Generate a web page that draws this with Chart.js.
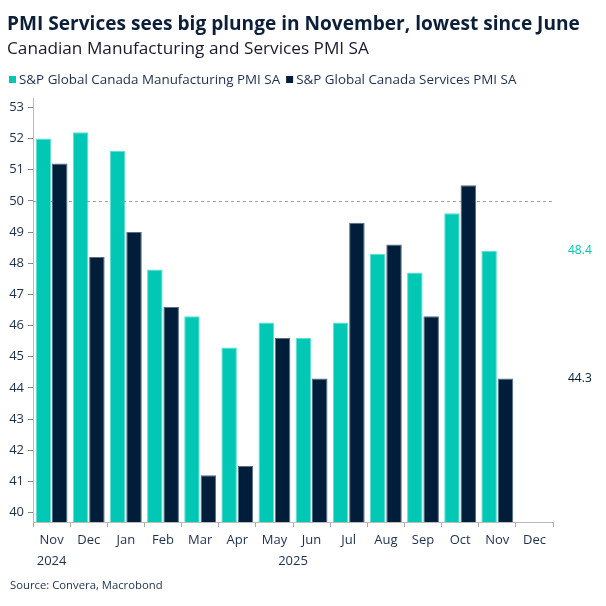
<!DOCTYPE html>
<html>
<head>
<meta charset="utf-8">
<script src="https://cdn.jsdelivr.net/npm/chart.js@4"></script>
<style>
html,body{margin:0;padding:0;background:#fff;}
#wrap{position:relative;width:606px;height:606px;}
</style>
</head>
<body>
<div id="wrap"><canvas id="c" width="606" height="606"></canvas></div>
<script>
const categories = ['Nov','Dec','Jan','Feb','Mar','Apr','May','Jun','Jul','Aug','Sep','Oct','Nov','Dec'];
const manufacturing = [52.0,52.2,51.6,47.8,46.3,45.3,46.1,45.6,46.1,48.3,47.7,49.6,48.4,null];
const services = [51.2,48.2,49.0,46.6,41.2,41.5,45.6,44.3,49.3,48.6,46.3,50.5,44.3,null];
const yTicks = [40,41,42,43,44,45,46,47,48,49,50,51,52,53];
const yearLabels = ['2024','2025'];
const yearPositions = [0, 6.5];
const seriesNames = ['S&P Global Canada Manufacturing PMI SA','S&P Global Canada Services PMI SA'];
const refLevel = 50;
const titleText = 'PMI Services sees big plunge in November, lowest since June';
const subtitleText = 'Canadian Manufacturing and Services PMI SA';
const sourceText = 'Source: Convera, Macrobond';

const TEAL = '#00C8B4';
const NAVY = '#001E3A';
const TXT = '#1c2f4e';
const FONT = "'Open Sans', 'Noto Sans', sans-serif";

const extras = {
  id: 'extras',
  beforeDatasetsDraw(chart) {
    const {ctx, chartArea} = chart;
    const y = chart.scales.y.getPixelForValue(refLevel);
    ctx.save();
    ctx.strokeStyle = '#a0a0a0';
    ctx.lineWidth = 1;
    ctx.setLineDash([3,3]);
    ctx.beginPath();
    ctx.moveTo(chartArea.left, Math.round(y)+0.5);
    ctx.lineTo(chartArea.right, Math.round(y)+0.5);
    ctx.stroke();
    ctx.restore();
  },
  afterDraw(chart) {
    const {ctx, chartArea} = chart;
    const xs = chart.scales.x, ys = chart.scales.y;
    ctx.save();
    // title & subtitle
    ctx.textAlign = 'left';
    ctx.textBaseline = 'alphabetic';
    ctx.fillStyle = '#0b1f3a';
    ctx.font = "bold 19.1px " + FONT;
    ctx.fillText(titleText, 7, 29.5);
    ctx.fillStyle = '#1a1a2e';
    ctx.font = "17.2px " + FONT;
    ctx.fillText(subtitleText, 7, 54);
    // legend
    ctx.font = "13.4px " + FONT;
    ctx.textBaseline = 'middle';
    let lx = 9;
    chart.data.datasets.forEach(ds => {
      ctx.fillStyle = ds.backgroundColor;
      ctx.fillRect(lx, 76, 7, 7);
      ctx.fillStyle = TXT;
      ctx.fillText(ds.label, lx + 10, 80);
      lx += 10 + ctx.measureText(ds.label).width + 6;
    });
    // year labels
    ctx.font = "13px " + FONT;
    ctx.fillStyle = TXT;
    ctx.textAlign = 'center';
    yearLabels.forEach((t,i) => {
      ctx.fillText(t, xs.getPixelForValue(yearPositions[i]), chartArea.bottom + 39);
    });
    // last value labels
    const lastIdx = (arr) => { for (let i = arr.length-1; i>=0; i--) if (arr[i]!=null) return i; return -1; };
    ctx.font = "12px " + FONT;
    ctx.textAlign = 'left';
    const mi = lastIdx(manufacturing), si = lastIdx(services);
    ctx.fillStyle = TEAL;
    ctx.fillText(manufacturing[mi].toFixed(1), chartArea.right + 15, ys.getPixelForValue(manufacturing[mi]));
    ctx.fillStyle = NAVY;
    ctx.fillText(services[si].toFixed(1), chartArea.right + 15, ys.getPixelForValue(services[si]));
    // source
    ctx.font = "11.3px " + FONT;
    ctx.fillStyle = TXT;
    ctx.fillText(sourceText, 10, 586);
    ctx.restore();
  }
};

new Chart(document.getElementById('c'), {
  type: 'bar',
  data: {
    labels: categories,
    datasets: [
      {label: seriesNames[0], data: manufacturing, backgroundColor: TEAL, borderColor: '#5fe0d2', borderWidth: 1, categoryPercentage: 0.88, barPercentage: 0.95},
      {label: seriesNames[1], data: services, backgroundColor: NAVY, borderColor: '#5a6e86', borderWidth: 1, categoryPercentage: 0.88, barPercentage: 0.95}
    ]
  },
  options: {
    responsive: false,
    animation: false,
    devicePixelRatio: 1,
    layout: {padding: {left: 0, right: 53, top: 98, bottom: 54}},
    plugins: {
      title: {display: false},
      subtitle: {display: false},
      legend: {display: false},
      tooltip: {enabled: false}
    },
    scales: {
      x: {
        grid: {offset: true, drawOnChartArea: false, drawTicks: true, tickLength: 5, color: '#aaaaaa'},
        border: {color: '#bbbbbb'},
        ticks: {color: TXT, font: {family: FONT, size: 13}, padding: 5, maxRotation: 0, autoSkip: false},
        afterFit(s) { s.height = 30; }
      },
      y: {
        min: 39.7, max: 53.3,
        afterBuildTicks(s) { s.ticks = yTicks.map(v => ({value: v})); },
        grid: {drawOnChartArea: false, drawTicks: true, tickLength: 5, color: '#888888'},
        border: {color: '#bbbbbb'},
        ticks: {color: TXT, font: {family: FONT, size: 13}, padding: 4},
        afterFit(s) { s.width = 33; }
      }
    }
  },
  plugins: [extras]
});
</script>
</body>
</html>
